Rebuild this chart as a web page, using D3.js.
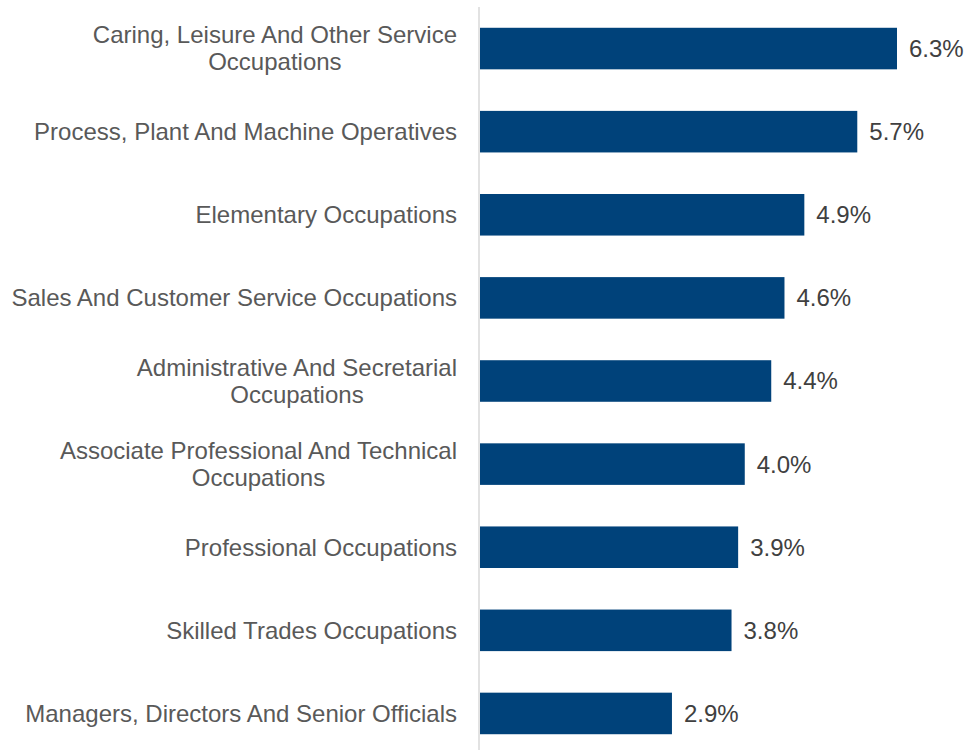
<!DOCTYPE html>
<html>
<head>
<meta charset="utf-8">
<script src="https://cdn.jsdelivr.net/npm/d3@7"></script>
<style>
  body { margin: 0; background: #fff; }
  text { font-family: "Liberation Sans", Arial, sans-serif; }
</style>
</head>
<body>
<div id="chart"></div>
<script>
// Occupation groups, top to bottom
const occupations = [
  "Caring, Leisure And Other Service Occupations",
  "Process, Plant And Machine Operatives",
  "Elementary Occupations",
  "Sales And Customer Service Occupations",
  "Administrative And Secretarial Occupations",
  "Associate Professional And Technical Occupations",
  "Professional Occupations",
  "Skilled Trades Occupations",
  "Managers, Directors And Senior Officials"
];
const rates = [6.3, 5.7, 4.9, 4.6, 4.4, 4.0, 3.9, 3.8, 2.9];

const width = 967;
const height = 750;
const margin = {left: 479, right: 70, top: 7, bottom: -5};

const svg = d3.select("#chart")
  .append("svg")
  .attr("width", width)
  .attr("height", height);

// scales
const xScale = d3.scaleLinear()
  .domain([0, 6.3])
  .range([margin.left + 1, 897]);

const yScale = d3.scaleBand()
  .domain(occupations)
  .range([margin.top, height - margin.bottom])
  .paddingInner(0.5)
  .paddingOuter(0.25);

// bars
svg.selectAll("rect.bar")
  .data(occupations)
  .enter()
  .append("rect")
    .attr("class", "bar")
    .attr("x", xScale(0))
    .attr("y", d => yScale(d))
    .attr("width", (d, i) => xScale(rates[i]) - xScale(0))
    .attr("height", yScale.bandwidth())
    .attr("fill", "#00427a");

// value labels
svg.selectAll("text.value")
  .data(occupations)
  .enter()
  .append("text")
    .attr("class", "value")
    .attr("x", (d, i) => xScale(rates[i]) + 12)
    .attr("y", d => yScale(d) + yScale.bandwidth() / 2)
    .attr("dy", "0.35em")
    .attr("font-size", "24px")
    .attr("fill", "#404040")
    .text((d, i) => rates[i].toFixed(1) + "%");

// y axis (line only, labels drawn below)
const yAxis = svg.append("g")
  .attr("transform", `translate(${margin.left},0)`)
  .call(d3.axisLeft(yScale).tickSize(0).tickFormat(""));
yAxis.select(".domain")
  .attr("stroke", "#d9d9d9")
  .attr("stroke-width", 1.5)
  .attr("d", `M0,${margin.top}V${height}`);

// category labels, wrapped and centred within their block
const maxLabelWidth = 453;
const labelRight = 457;
const lineHeight = 27;

occupations.forEach(function(name) {
  const g = svg.append("g");
  const words = name.split(" ");
  const lines = [];
  let current = [];
  const probe = g.append("text").attr("font-size", "24px");
  words.forEach(function(w) {
    const test = current.concat([w]).join(" ");
    probe.text(test);
    if (probe.node().getComputedTextLength() > maxLabelWidth && current.length) {
      lines.push(current.join(" "));
      current = [w];
    } else {
      current.push(w);
    }
  });
  lines.push(current.join(" "));
  const widths = lines.map(function(l) {
    probe.text(l);
    return probe.node().getComputedTextLength();
  });
  probe.remove();

  const blockW = d3.max(widths);
  const cx = labelRight - blockW / 2;
  const cy = yScale(name) + yScale.bandwidth() / 2;
  const startY = cy - (lines.length - 1) * lineHeight / 2;

  lines.forEach(function(l, j) {
    g.append("text")
      .attr("x", cx)
      .attr("y", startY + j * lineHeight)
      .attr("dy", "0.35em")
      .attr("text-anchor", "middle")
      .attr("font-size", "24px")
      .attr("fill", "#595959")
      .text(l);
  });
});
</script>
</body>
</html>
